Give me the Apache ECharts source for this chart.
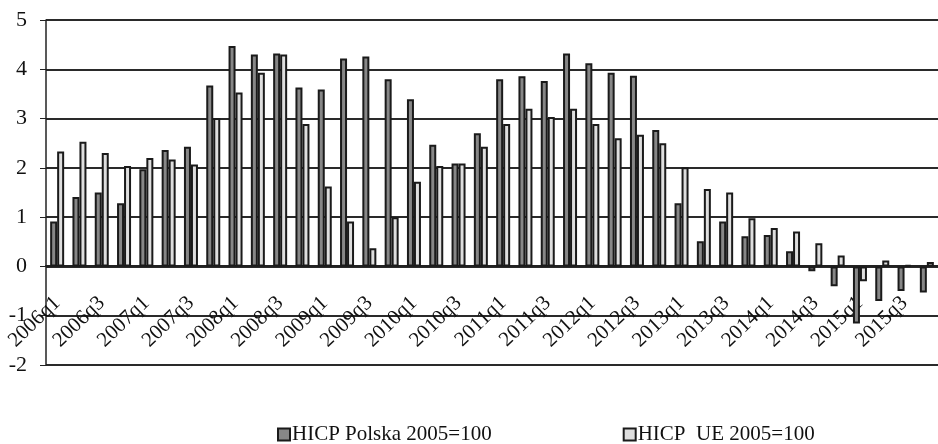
<!DOCTYPE html>
<html>
<head>
<meta charset="utf-8">
<script src="https://cdn.jsdelivr.net/npm/echarts@6/dist/echarts.min.js"></script>
<style>
html, body { margin: 0; padding: 0; background: #fff; }
#chart { width: 938px; height: 444px; }
</style>
</head>
<body>
<div id="chart"></div>
<script>
// kwartały 2006q1 - 2015q4
var quarters = [
	'2006q1', '2006q2', '2006q3', '2006q4', '2007q1', '2007q2', '2007q3', '2007q4',
	'2008q1', '2008q2', '2008q3', '2008q4', '2009q1', '2009q2', '2009q3', '2009q4',
	'2010q1', '2010q2', '2010q3', '2010q4', '2011q1', '2011q2', '2011q3', '2011q4',
	'2012q1', '2012q2', '2012q3', '2012q4', '2013q1', '2013q2', '2013q3', '2013q4',
	'2014q1', '2014q2', '2014q3', '2014q4', '2015q1', '2015q2', '2015q3', '2015q4'
];
var hicpPolska = [
	0.91, 1.41, 1.50, 1.28, 1.97, 2.36, 2.43, 3.67,
	4.47, 4.30, 4.32, 3.63, 3.59, 4.22, 4.26, 3.80,
	3.39, 2.47, 2.09, 2.70, 3.80, 3.86, 3.76, 4.32,
	4.12, 3.93, 3.87, 2.77, 1.28, 0.51, 0.91, 0.61,
	0.64, 0.31, -0.10, -0.40, -1.16, -0.70, -0.50, -0.53
];
var hicpUE = [
	2.33, 2.53, 2.30, 2.04, 2.20, 2.17, 2.07, 3.01,
	3.53, 3.93, 4.30, 2.89, 1.62, 0.91, 0.37, 1.00,
	1.72, 2.04, 2.09, 2.43, 2.89, 3.20, 3.03, 3.20,
	2.89, 2.60, 2.67, 2.50, 2.01, 1.57, 1.50, 0.98,
	0.78, 0.71, 0.47, 0.22, -0.30, 0.12, 0.03, 0.09
];
var seriesNames = ['HICP Polska 2005=100', 'HICP  UE 2005=100'];

var fontFamily = '"Liberation Serif", "Times New Roman", serif';
var lineColor = '#2a2a2a';

var myChart = echarts.init(document.getElementById('chart'));
var option = {
	animation: false,
	backgroundColor: '#fff',
	grid: {
		left: 46,
		right: 0,
		top: 20,
		bottom: 79
	},
	legend: {
		left: 272,
		top: 419,
		itemWidth: 12,
		itemHeight: 12,
		itemGap: 131,
		icon: 'rect',
		textStyle: {
			fontFamily: fontFamily,
			fontSize: 21,
			color: '#111',
			padding: [0, 0, 0, -3]
		},
		data: seriesNames
	},
	xAxis: {
		type: 'category',
		data: quarters,
		// os kategorii na wysokosci zera (365 - 266 = 99px)
		offset: -99,
		axisLine: {
			onZero: false,
			lineStyle: { color: '#222', width: 2 }
		},
		axisTick: {
			interval: 0,
			length: 5,
			lineStyle: { color: '#222', width: 1 }
		},
		axisLabel: {
			interval: 1,
			rotate: 44,
			margin: 34,
			fontFamily: fontFamily,
			fontSize: 21,
			color: '#111'
		}
	},
	yAxis: {
		type: 'value',
		min: -2,
		max: 5,
		interval: 1,
		axisLine: {
			show: true,
			lineStyle: { color: '#222', width: 1.5 }
		},
		axisTick: {
			show: true,
			length: 6,
			lineStyle: { color: '#222', width: 1 }
		},
		axisLabel: {
			margin: 19,
			fontFamily: fontFamily,
			fontSize: 22,
			color: '#111'
		},
		splitLine: {
			lineStyle: { color: lineColor, width: 2 }
		}
	},
	series: [{
		name: seriesNames[0],
		type: 'bar',
		data: hicpPolska,
		barWidth: 7,
		barGap: '0%',
		itemStyle: {
			color: '#878787',
			borderColor: '#1a1a1a',
			borderWidth: 2
		}
	}, {
		name: seriesNames[1],
		type: 'bar',
		data: hicpUE,
		barWidth: 7,
		barGap: '0%',
		itemStyle: {
			color: '#dedede',
			borderColor: '#1a1a1a',
			borderWidth: 2
		}
	}]
};
myChart.setOption(option);
</script>
</body>
</html>
